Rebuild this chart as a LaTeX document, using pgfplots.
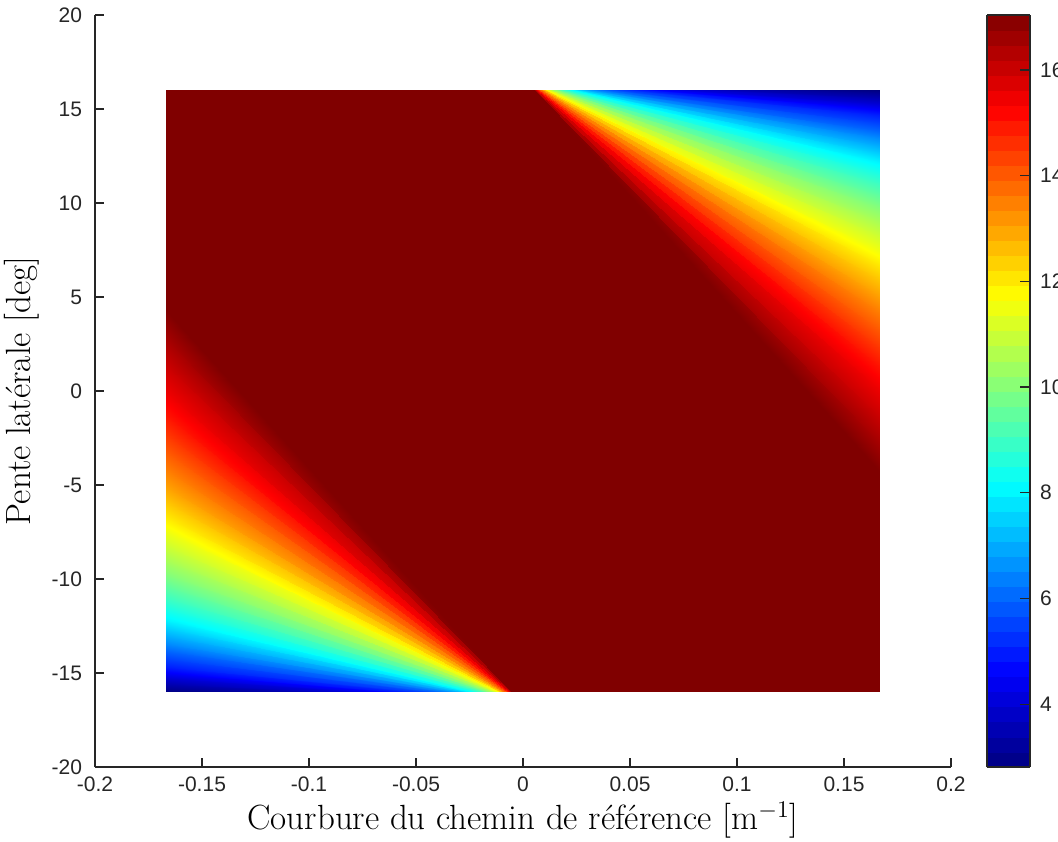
\documentclass[border=0pt]{standalone}
\usepackage{fontspec}
\usepackage{pgfplots}
\usepackage{pgfplotstable}
\pgfplotsset{compat=1.18}
\newfontfamily\ticksfont{Liberation Sans}
\definecolor{axgray}{RGB}{38,38,38}
\definecolor{satred}{RGB}{128,0,0}

% right (kappa>0) fan: rows = iso-value lines, col0 on top edge, col1 on right edge
\pgfplotstableread{
k t v
0.16667 16 2.81
0.16667 16 2.81
0.14186 16 3.0
0.16667 15.886 3.0
0.10194 16 3.5
0.16667 15.587 3.5
0.07955 16 4.0
0.16667 15.288 4.0
0.06523 16 4.5
0.16667 14.989 4.5
0.05465 16 5.0
0.16667 14.668 5.0
0.04526 16 5.5
0.16667 14.257 5.5
0.03862 16 6.0
0.16667 13.845 6.0
0.03369 16 6.5
0.16667 13.434 6.5
0.02987 16 7.0
0.16667 13.023 7.0
0.02683 16 7.5
0.16667 12.612 7.5
0.02434 16 8.0
0.16667 12.200 8.0
0.02143 16 8.5
0.16667 11.595 8.5
0.01914 16 9.0
0.16667 10.990 9.0
0.01729 16 9.5
0.16667 10.384 9.5
0.01570 16 10.0
0.16667 9.748 10.0
0.01414 16 10.5
0.16667 8.988 10.5
0.01286 16 11.0
0.16667 8.228 11.0
0.01180 16 11.5
0.16667 7.469 11.5
0.01086 16 12.0
0.16667 6.678 12.0
0.01006 16 12.5
0.16667 5.879 12.5
0.00936 16 13.0
0.16667 5.080 13.0
0.00871 16 13.5
0.16667 4.211 13.5
0.00808 16 14.0
0.16667 3.237 14.0
0.00753 16 14.5
0.16667 2.263 14.5
0.00705 16 15.0
0.16667 1.290 15.0
0.00653 16 15.5
0.16667 0.052 15.5
0.00601 16 16.0
0.16667 -1.361 16.0
0.00558 16 16.5
0.16667 -2.774 16.5
0.00517 16 17.04
0.16667 -4.300 17.04
}\tabR

% left (kappa<0) fan
\pgfplotstableread{
k t v
-0.16667 -16 2.81
-0.16667 -16 2.81
-0.14186 -16 3.0
-0.16667 -15.886 3.0
-0.10194 -16 3.5
-0.16667 -15.587 3.5
-0.07955 -16 4.0
-0.16667 -15.288 4.0
-0.06523 -16 4.5
-0.16667 -14.989 4.5
-0.05465 -16 5.0
-0.16667 -14.668 5.0
-0.04526 -16 5.5
-0.16667 -14.257 5.5
-0.03862 -16 6.0
-0.16667 -13.845 6.0
-0.03369 -16 6.5
-0.16667 -13.434 6.5
-0.02987 -16 7.0
-0.16667 -13.023 7.0
-0.02683 -16 7.5
-0.16667 -12.612 7.5
-0.02434 -16 8.0
-0.16667 -12.200 8.0
-0.02143 -16 8.5
-0.16667 -11.595 8.5
-0.01914 -16 9.0
-0.16667 -10.990 9.0
-0.01729 -16 9.5
-0.16667 -10.384 9.5
-0.01570 -16 10.0
-0.16667 -9.748 10.0
-0.01414 -16 10.5
-0.16667 -8.988 10.5
-0.01286 -16 11.0
-0.16667 -8.228 11.0
-0.01180 -16 11.5
-0.16667 -7.469 11.5
-0.01086 -16 12.0
-0.16667 -6.678 12.0
-0.01006 -16 12.5
-0.16667 -5.879 12.5
-0.00936 -16 13.0
-0.16667 -5.080 13.0
-0.00871 -16 13.5
-0.16667 -4.211 13.5
-0.00808 -16 14.0
-0.16667 -3.237 14.0
-0.00753 -16 14.5
-0.16667 -2.263 14.5
-0.00705 -16 15.0
-0.16667 -1.290 15.0
-0.00653 -16 15.5
-0.16667 -0.052 15.5
-0.00601 -16 16.0
-0.16667 1.361 16.0
-0.00558 -16 16.5
-0.16667 2.774 16.5
-0.00517 -16 17.04
-0.16667 4.300 17.04
}\tabL

\begin{document}
\begin{tikzpicture}
\begin{axis}[
  scale only axis, width=428pt, height=376pt,
  xmin=-0.2, xmax=0.2, ymin=-20, ymax=20,
  axis lines=left,
  axis line style={-, draw=axgray, line width=0.6pt},
  tick align=inside, major tick length=4.3pt,
  tick style={draw=axgray, line width=0.6pt},
  xtick={-0.2,-0.15,-0.1,-0.05,0,0.05,0.1,0.15,0.2},
  xticklabels={-0.2,-0.15,-0.1,-0.05,0,0.05,0.1,0.15,0.2},
  ytick={-20,-15,-10,-5,0,5,10,15,20},
  yticklabels={-20,-15,-10,-5,0,5,10,15,20},
  ticklabel style={font=\ticksfont\fontsize{10.5}{12}\selectfont, text=axgray},
  xticklabel style={yshift=-1.5pt},
  yticklabel style={xshift=-3pt},
  /pgf/number format/assume math mode=true,
  xlabel={Courbure du chemin de référence [m$^{-1}$]},
  ylabel={Pente latérale [deg]},
  xlabel style={font=\fontsize{17.5}{20}\selectfont, at={(axis description cs:0.5,0)}, anchor=center, yshift=-26.5pt},
  ylabel style={font=\fontsize{17.5}{20}\selectfont, at={(axis description cs:-0.0853,0.5)}, anchor=center},
  colormap/jet,
  point meta min=2.81, point meta max=17.04,
  colorbar sampled,
  colorbar style={
    samples=51,
    at={(parent axis.north east)}, anchor=north west, xshift=9.5pt,
    width=21.5pt,
    ytick={4,6,8,10,12,14,16},
    yticklabels={4,6,8,10,12,14,16},
    tick align=inside, major tick length=5pt,
    ytick pos=right,
    tick style={draw=axgray, line width=0.6pt},
    axis line style={draw=axgray, line width=0.6pt},
    yticklabel style={font=\ticksfont\fontsize{10.5}{12}\selectfont, text=axgray, xshift=1.5pt},
    /pgf/number format/assume math mode=true,
  },
]
\addplot[draw=none, fill=satred, forget plot] coordinates {(-0.16667,-16) (0.16667,-16) (0.16667,16) (-0.16667,16)} -- cycle;
\addplot[surf, shader=interp, mesh/rows=30, mesh/cols=2, point meta=\thisrow{v}] table[x=k, y=t] {\tabR};
\addplot[surf, shader=interp, mesh/rows=30, mesh/cols=2, point meta=\thisrow{v}] table[x=k, y=t] {\tabL};
\end{axis}
\pgfresetboundingbox
\path[use as bounding box] (-47.5pt,-37pt) rectangle (481.5pt,383.5pt);
\end{tikzpicture}
\end{document}
